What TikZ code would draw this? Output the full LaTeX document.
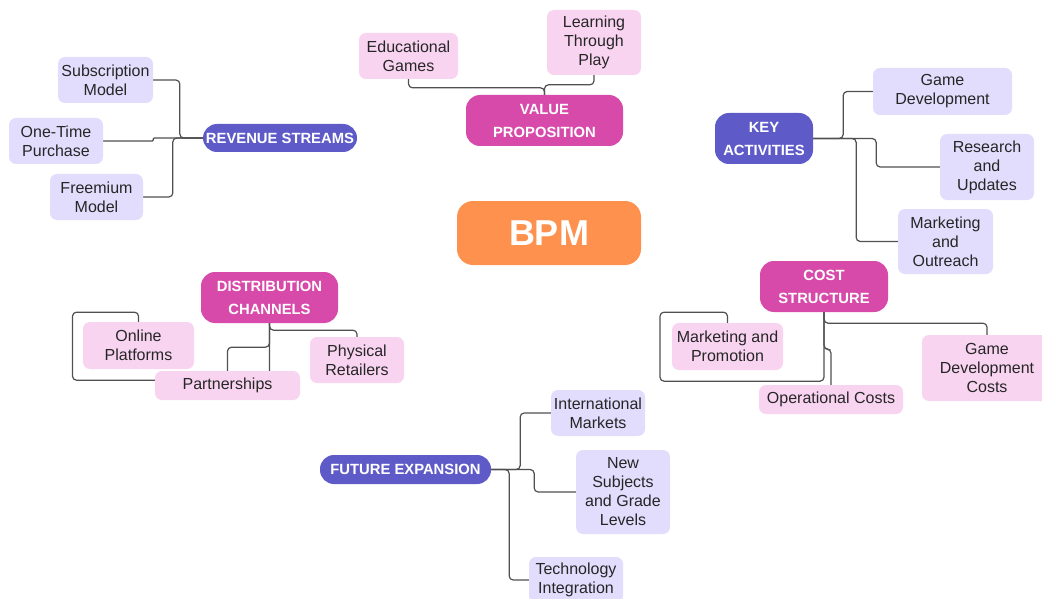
\documentclass[tikz,border=0pt]{standalone}
\usepackage{fontspec}
\setmainfont{Liberation Sans}
\usetikzlibrary{backgrounds}
\definecolor{bpmorange}{RGB}{254,145,77}
\definecolor{bpmpurple}{RGB}{94,91,201}
\definecolor{bpmmagenta}{RGB}{215,74,170}
\definecolor{bpmlav}{RGB}{226,221,253}
\definecolor{bpmpink}{RGB}{249,212,241}
\definecolor{bpmline}{RGB}{80,80,80}

\begin{document}
\begin{tikzpicture}[x=1pt, y=-1pt,
  leaf/.style={rectangle, rounded corners=7pt, inner sep=0pt, align=center, text=black!85, font=\fontsize{16}{19}\selectfont},
  lav/.style={leaf, fill=bpmlav},
  pink/.style={leaf, fill=bpmpink},
  topic/.style={rectangle, rounded corners=14pt, inner sep=0pt, align=center, text=white, font=\bfseries\fontsize{14.8}{23}\selectfont},
  topicA/.style={topic, fill=bpmpurple},
  topicB/.style={topic, fill=bpmmagenta},
  link/.style={draw=bpmline, line width=1.2pt, rounded corners=4pt}]
\useasboundingbox (0,0) rectangle (1042,599);

\node (bpm) [rectangle, rounded corners=16pt, fill=bpmorange, text=white, font=\bfseries\fontsize{36}{40}\selectfont, minimum width=184pt, minimum height=64pt] at (549,233) {BPM};

\node (rev) [topicA, minimum width=154pt, minimum height=28pt] at (280,138) {REVENUE STREAMS};
\node (rev0) [lav, minimum width=95pt, minimum height=46pt] at (105.5,80) {Subscription\\Model};
\node (rev1) [lav, minimum width=94pt, minimum height=46pt] at (56,141) {One-Time\\Purchase};
\node (rev2) [lav, minimum width=93pt, minimum height=46pt] at (96.5,197) {Freemium\\Model};

\node (val) [topicB, minimum width=157pt, minimum height=51pt] at (544.5,120.5) {VALUE\\PROPOSITION};
\node (val0) [pink, minimum width=99pt, minimum height=46pt] at (408.5,56) {Educational\\Games};
\node (val1) [pink, minimum width=94pt, minimum height=65pt] at (594,42.5) {Learning\\Through\\Play};

\node (key) [topicA, minimum width=98pt, minimum height=51pt] at (764,138.5) {KEY\\ACTIVITIES};
\node (key0) [lav, minimum width=139pt, minimum height=47pt] at (942.5,91.5) {Game\\Development};
\node (key1) [lav, minimum width=94pt, minimum height=66pt] at (987,167) {Research\\and\\Updates};
\node (key2) [lav, minimum width=95pt, minimum height=65pt] at (945.5,241.5) {Marketing\\and\\Outreach};

\node (cost) [topicB, minimum width=128pt, minimum height=51pt] at (824,286.5) {COST\\STRUCTURE};
\node (cost0) [pink, minimum width=111pt, minimum height=47pt] at (727.5,346.5) {Marketing and\\Promotion};
\node (cost1) [pink, minimum width=144pt, minimum height=29pt] at (831,399.5) {Operational Costs};
\node (cost2) [pink, minimum width=130pt, minimum height=66pt] at (987,368) {Game\\Development\\Costs};

\node (dist) [topicB, minimum width=137pt, minimum height=51pt] at (269.5,297.5) {DISTRIBUTION\\CHANNELS};
\node (dist0) [pink, minimum width=111pt, minimum height=47pt] at (138.5,345.5) {Online\\Platforms};
\node (dist1) [pink, minimum width=145pt, minimum height=29pt] at (227.5,385.5) {Partnerships};
\node (dist2) [pink, minimum width=94pt, minimum height=46pt] at (357,360) {Physical\\Retailers};

\node (fut) [topicA, minimum width=171pt, minimum height=29pt] at (405.5,469.5) {FUTURE EXPANSION};
\node (fut0) [lav, minimum width=94pt, minimum height=46pt] at (598,413) {International\\Markets};
\node (fut1) [lav, minimum width=94pt, minimum height=84pt] at (623,492) {New\\Subjects\\and Grade\\Levels};
\node (fut2) [lav, minimum width=94pt, minimum height=46pt] at (576,580) {Technology\\Integration};

\begin{scope}[on background layer]
\fill[white] (0,0) rectangle (1042,599);

\draw[link] (rev.west) -- ++(-23,0) |- (rev0.east);
\draw[link, rounded corners=1pt] (rev1.east) -- ++(50,0) |- (rev.west);
\draw[link] (rev.west) -- ++(-30,0) |- (rev2.east);

\draw[link] (val.north) -- ++(0,-7) -| (val0.south);
\draw[link] (val.north) -- ++(0,-10) -| (val1.south);

\draw[link] (key.east) -- ++(30,0) |- (key0.west);
\draw[link] (key.east) -- ++(63,0) |- (key1.west);
\draw[link] (key.east) -- ++(43,0) |- (key2.west);

\draw[link] (cost.south) -- ++(0,11) -| (cost2.north);
\draw[link] (cost.south) -- ++(0,37) -| (cost1.north);
\draw[link] (cost.south) -- ++(0,69) -- ++(-164,0) -- ++(0,-69) -| (cost0.north);

\draw[link] (dist.south) -- ++(0,7) -| (dist2.north);
\draw[link] (dist.south) -- ++(0,24) -| (dist1.north);
\draw[link] (dist.south) -- ++(0,57) -- ++(-197,0) -- ++(0,-68) -| (dist0.north);

\draw[link] (fut.east) -- ++(29,0) |- (fut0.west);
\draw[link] (fut.east) -- ++(43,0) |- (fut1.west);
\draw[link] (fut.east) -- ++(18,0) |- (fut2.west);
\end{scope}
\end{tikzpicture}
\end{document}
